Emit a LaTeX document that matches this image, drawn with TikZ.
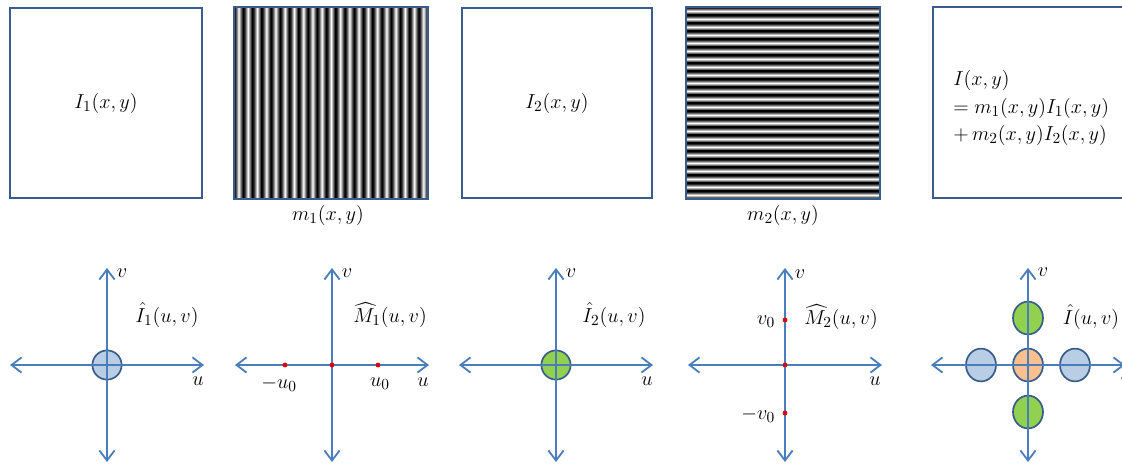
\documentclass[tikz,border=0pt]{standalone}
\usepackage{amsmath,amssymb}
\usetikzlibrary{arrows.meta,calc,shapes.geometric}
\definecolor{FigBox}{HTML}{385D8A}
\definecolor{FigAxis}{HTML}{4A7EBB}
\definecolor{FigBlue}{HTML}{B9CDE5}
\definecolor{FigGreen}{HTML}{92D050}
\definecolor{FigOrange}{HTML}{FAC090}
\definecolor{FigDot}{HTML}{E00000}
\pgfdeclarehorizontalshading{FigStripeV}{100bp}{color(0bp)=(black); color(25bp)=(black); color(33bp)=(black!80); color(50bp)=(white); color(67bp)=(black!80); color(75bp)=(black); color(100bp)=(black)}
\pgfdeclareverticalshading{FigStripeH}{100bp}{color(0bp)=(black); color(25bp)=(black); color(33bp)=(black!80); color(50bp)=(white); color(67bp)=(black!80); color(75bp)=(black); color(100bp)=(black)}

\begin{document}
\begin{tikzpicture}[x=0.25mm,y=-0.25mm,
  every node/.style={font=\fontsize{15}{19.5}\selectfont},
  imgbox/.style={draw=FigBox,line width=2pt,minimum width=48mm,minimum height=47.5mm},
  axisline/.style={draw=FigAxis,line width=1.3pt},
  >={Straight Barb[length=2.5mm,width=3.8mm]},
  spot/.style={draw=FigBox,line width=1.2pt,inner sep=0pt},
  dotmark/.style={circle,fill=FigDot,inner sep=0pt,minimum size=1.2mm}]
  \useasboundingbox (0,0) rectangle (1122,464);

  % top row: images
  \node[imgbox] (box1) at (106,103) {$I_1(x,y)$};
  \foreach \i in {0,...,20}
    \shade[shading=FigStripeV] (234+\i*9.238,7) rectangle (234+\i*9.238+9.238,199);
  \node[imgbox,minimum width=48.5mm,minimum height=48mm] (box2) at (331,103) {};
  \node (m1lbl) at (328,215) {$m_1(x,y)$};
  \node[imgbox,minimum width=47.5mm] (box3) at (557,103) {$I_2(x,y)$};
  \foreach \i in {0,...,23}
    \shade[shading=FigStripeH] (686,7+\i*8) rectangle (880,7+\i*8+8);
  \node[imgbox,minimum width=48.5mm,minimum height=48mm] (box4) at (783,103) {};
  \node (m2lbl) at (783,215) {$m_2(x,y)$};
  \draw[draw=FigBox,line width=2pt] (1130,7) -- (933,7) -- (933,198) -- (1130,198);
  \node[anchor=west,align=left,inner sep=0pt] (sumlbl) at (953,108) {$I(x,y)$\\$=m_1(x,y)I_1(x,y)$\\$+\,m_2(x,y)I_2(x,y)$};

  % bottom row: spectra
  \coordinate (oA) at (107,365);
  \coordinate (oB) at (332,365);
  \coordinate (oC) at (556,365);
  \coordinate (oD) at (785,365);
  \coordinate (oE) at (1028,365);

  \node[spot,circle,fill=FigBlue,minimum size=7.3mm] (spotA) at (oA) {};
  \node[spot,circle,fill=FigGreen,minimum size=7.3mm] (spotC) at (oC) {};
  \node[spot,ellipse,fill=FigOrange,minimum width=7.5mm,minimum height=8.2mm] (spotE) at (oE) {};
  \node[spot,ellipse,fill=FigBlue,minimum width=7.5mm,minimum height=8.2mm] (spotEl) at ($(oE)+(-47,0)$) {};
  \node[spot,ellipse,fill=FigBlue,minimum width=7.5mm,minimum height=8.2mm] (spotEr) at ($(oE)+(47,0)$) {};
  \node[spot,ellipse,fill=FigGreen,minimum width=7.5mm,minimum height=8.2mm] (spotEt) at ($(oE)+(0,-47)$) {};
  \node[spot,ellipse,fill=FigGreen,minimum width=7.5mm,minimum height=8.2mm] (spotEb) at ($(oE)+(0,47)$) {};

  \foreach \o in {oA,oB,oC,oD,oE} {
    \draw[axisline,<->] ($(\o)+(-97,0)$) -- ($(\o)+(97,0)$);
    \draw[axisline,<->] ($(\o)+(0,97)$) -- ($(\o)+(0,-97)$);
  }

  \node[dotmark] (dotB0) at (oB) {};
  \node[dotmark] (dotBl) at ($(oB)+(-47,0)$) {};
  \node[dotmark] (dotBr) at ($(oB)+(46,0)$) {};
  \node[dotmark] (dotD0) at (oD) {};
  \node[dotmark] (dotDt) at ($(oD)+(0,-45)$) {};
  \node[dotmark] (dotDb) at ($(oD)+(0,48)$) {};

  \node[anchor=west] (vA) at ($(oA)+(5,-92)$) {$v$};
  \node (FA) at ($(oA)+(60,-50)$) {$\hat{I}_1(u,v)$};
  \node (uA) at ($(oA)+(91,16)$) {$u$};

  \node[anchor=west] (vB) at ($(oB)+(5,-92)$) {$v$};
  \node (FB) at ($(oB)+(58,-50)$) {$\widehat{M}_1(u,v)$};
  \node (uB) at ($(oB)+(91,17)$) {$u$};
  \node (muB) at ($(oB)+(-53,19)$) {$-u_0$};
  \node (puB) at ($(oB)+(48,19)$) {$u_0$};

  \node[anchor=west] (vC) at ($(oC)+(5,-92)$) {$v$};
  \node (FC) at ($(oC)+(58,-50)$) {$\hat{I}_2(u,v)$};
  \node (uC) at ($(oC)+(91,16)$) {$u$};

  \node[anchor=west] (vD) at ($(oD)+(5,-91)$) {$v$};
  \node (FD) at ($(oD)+(56,-48)$) {$\widehat{M}_2(u,v)$};
  \node (uD) at ($(oD)+(90,16)$) {$u$};
  \node[anchor=east] (pvD) at ($(oD)+(-5,-43)$) {$v_0$};
  \node[anchor=east] (mvD) at ($(oD)+(-5,50)$) {$-v_0$};

  \node[anchor=west] (vE) at ($(oE)+(5,-93)$) {$v$};
  \node (FE) at ($(oE)+(63,-48)$) {$\hat{I}(u,v)$};
  \node (uE) at ($(oE)+(98,16)$) {$u$};
\end{tikzpicture}
\end{document}
